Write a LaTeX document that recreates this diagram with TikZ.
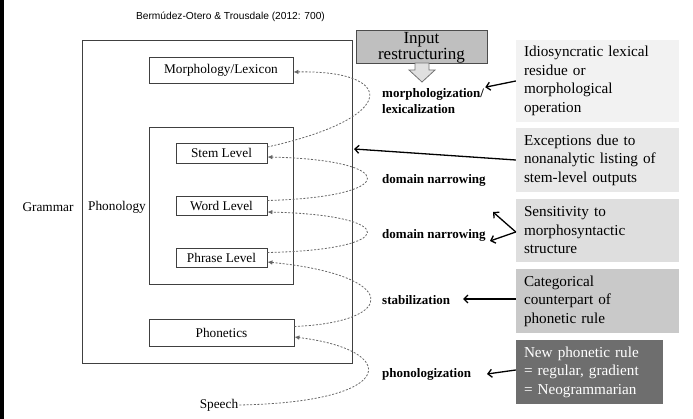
\documentclass[tikz,border=0pt]{standalone}
\usepackage{fontspec}
\setmainfont{Liberation Serif}
\setsansfont{Liberation Sans}
\usetikzlibrary{arrows.meta}

\begin{document}
\begin{tikzpicture}[x=1pt,y=-1pt,
  lvl/.style={draw=black!75,line width=0.8pt,inner sep=0pt,font=\fontsize{13.3}{15}\selectfont},
  proc/.style={anchor=west,align=left,inner sep=1pt,font=\bfseries\fontsize{13}{16}\selectfont},
  flow/.style={draw=black!60,line width=0.8pt,dash pattern=on 2pt off 1.6pt,-{Latex[length=5pt,width=4.5pt]}},
  note/.style={text width=147pt,inner xsep=8pt,inner ysep=0pt,align=left,font=\fontsize{15.2}{18.5}\selectfont},
  point/.style={line width=1.3pt,-{Straight Barb[length=4pt,width=8pt]}}]
\useasboundingbox (0,0) rectangle (693,419);
\fill (0,0) rectangle (4,419);
\node (cite) at (230.5,17) [font=\sffamily\fontsize{10.2}{12}\selectfont] {Bermúdez-Otero \& Trousdale (2012: 700)};
% grammar and its parts
\node (gram) at (217,201.5) [draw=black!75,line width=0.8pt,minimum width=270pt,minimum height=323pt] {};
\node (gl) at (48,207) [font=\fontsize{13.3}{15}\selectfont] {Grammar};
\node (morph) at (221,70) [lvl,minimum width=144pt,minimum height=26pt] {Morphology/Lexicon};
\node (phono) at (221,205.5) [lvl,minimum width=144pt,minimum height=157pt] {};
\node (pl) at (117,207) [font=\fontsize{13.3}{15}\selectfont] {Phonology};
\node (stem) at (221.5,153) [lvl,minimum width=91pt,minimum height=20pt] {Stem Level};
\node (word) at (221.5,205.5) [lvl,minimum width=91pt,minimum height=19pt] {Word Level};
\node (phrase) at (221.5,257.5) [lvl,minimum width=91pt,minimum height=19pt] {Phrase Level};
\node (phon) at (221.5,332.5) [lvl,minimum width=145pt,minimum height=27pt] {Phonetics};
\node (speech) at (219,405) [inner sep=1pt,font=\fontsize{13.3}{15}\selectfont] {Speech};
% loops
\draw[flow] ([yshift=6pt]stem.east) .. controls (402,117) and (395,70) .. ([yshift=-2pt]morph.east);
\draw[flow] ([yshift=5pt]word.east) .. controls (400,197) and (400,160) .. ([yshift=-4pt]stem.east);
\draw[flow] ([yshift=5pt]phrase.east) .. controls (400,250) and (400,215) .. ([yshift=-6.5pt]word.east);
\draw[flow] ([yshift=6pt]phon.east) .. controls (400,322) and (400,275) .. ([yshift=-4.5pt]phrase.east);
\draw[flow] (speech.east) .. controls (400,402) and (400,350) .. ([yshift=-4.5pt]phon.east);
\node (ml) at (381,101) [proc] {morphologization/\\lexicalization};
\node (dn1) at (381,180) [proc] {domain narrowing};
\node (dn2) at (381,235) [proc] {domain narrowing};
\node (st) at (381,300) [proc] {stabilization};
\node (pz) at (381,374) [proc] {phonologization};
% input restructuring
\node (inp) at (421.5,46.5) [draw=black!70,fill=black!25,minimum width=131pt,minimum height=33pt,inner sep=0pt,text depth=0pt,align=center,font=\fontsize{17}{15.5}\selectfont] {};
\node (inpt) at (421.5,48) [inner sep=0pt,align=center,font=\fontsize{17}{15.5}\selectfont] {Input\\restructuring};
\filldraw[fill=black!12,draw=black!55,line width=0.8pt] (415,63) -- (429,63) -- (429,70) -- (435,70) -- (422,82) -- (409,70) -- (415,70) -- cycle;
% notes
\node (n1) at (597.5,81) [note,fill=black!5,minimum height=82pt] {Idiosyncratic lexical\\residue or\\morphological\\operation};
\node (n2) at (597.5,160) [note,fill=black!9,minimum height=64pt] {Exceptions due to\\nonanalytic listing of\\stem-level outputs};
\node (n3) at (597.5,230.5) [note,fill=black!13,minimum height=63pt] {Sensitivity to\\morphosyntactic\\structure};
\node (n4) at (597.5,301) [note,fill=black!21,minimum height=64pt] {Categorical\\counterpart of\\phonetic rule};
\node (n5) at (589.5,372) [note,text width=131pt,fill=black!57,text=white,minimum height=64pt] {New phonetic rule\\= regular, gradient\\= Neogrammarian};
\coordinate (ge) at (354,149);
\coordinate (t3a) at (493,212);
\coordinate (t3b) at (490,241);
\coordinate (t4) at (463,299);
\coordinate (t5) at (487,374);
\draw[point] (n1.west) -- (ml.north east);
\draw[point] (n2.west) -- (ge);
\draw[point] ([yshift=-1.5pt]n3.west) -- (t3a);
\draw[point] ([yshift=-1.5pt]n3.west) -- (t3b);
\draw[point] ([yshift=2pt]n4.west) -- (t4);
\draw[point] ([yshift=2pt]n5.west) -- (t5);
\end{tikzpicture}
\end{document}
